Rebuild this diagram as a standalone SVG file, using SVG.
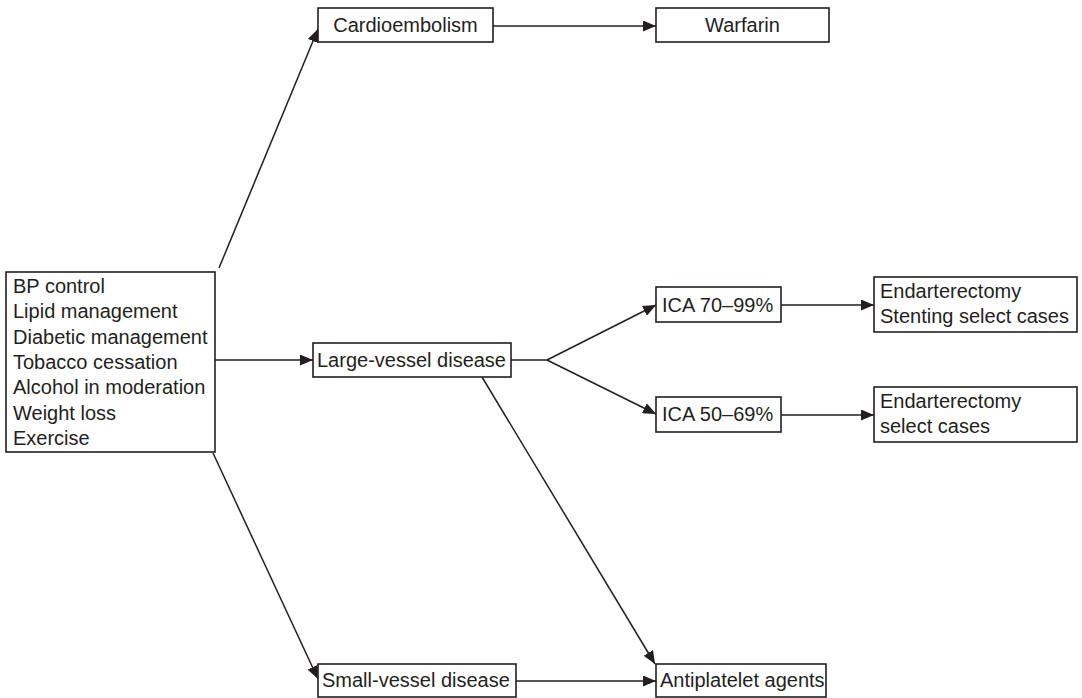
<svg xmlns="http://www.w3.org/2000/svg" width="1082" height="698" viewBox="0 0 1082 698">
<style>
.box{fill:#fff;stroke:#231f20;stroke-width:1.6}
.t{font-family:"Liberation Sans",Arial,sans-serif;font-size:20px;fill:#231f20}
.c{text-anchor:middle}
.ln{stroke:#231f20;stroke-width:1.5;fill:none}
</style>
<defs>
<marker id="ah" viewBox="0 0 13 11" refX="13" refY="5.5" markerWidth="13" markerHeight="11" markerUnits="userSpaceOnUse" orient="auto">
<path d="M0,0 L13,5.5 L0,11 Z" fill="#231f20"/>
</marker>
</defs>
<rect width="1082" height="698" fill="#fff"/>
<g id="connectors">
<line class="ln" x1="219" y1="268" x2="318" y2="29" marker-end="url(#ah)"/>
<line class="ln" x1="493" y1="26" x2="656" y2="26" marker-end="url(#ah)"/>
<line class="ln" x1="215" y1="360" x2="313" y2="360" marker-end="url(#ah)"/>
<line class="ln" x1="511" y1="360" x2="547" y2="360"/>
<line class="ln" x1="547" y1="360" x2="656" y2="305" marker-end="url(#ah)"/>
<line class="ln" x1="547" y1="360" x2="656" y2="414" marker-end="url(#ah)"/>
<line class="ln" x1="781" y1="305" x2="874" y2="305" marker-end="url(#ah)"/>
<line class="ln" x1="781" y1="415" x2="874" y2="415" marker-end="url(#ah)"/>
<line class="ln" x1="482" y1="377" x2="655" y2="664" marker-end="url(#ah)"/>
<line class="ln" x1="213" y1="453" x2="318" y2="679" marker-end="url(#ah)"/>
<line class="ln" x1="516" y1="681" x2="656" y2="681" marker-end="url(#ah)"/>
</g>
<g id="risk">
<rect class="box" x="6" y="272" width="209" height="180"/>
<text class="t" x="13" y="293">BP control</text>
<text class="t" x="13" y="318.3">Lipid management</text>
<text class="t" x="13" y="343.7">Diabetic management</text>
<text class="t" x="13" y="369">Tobacco cessation</text>
<text class="t" x="13" y="394.3">Alcohol in moderation</text>
<text class="t" x="13" y="419.7">Weight loss</text>
<text class="t" x="13" y="445">Exercise</text>
</g>
<g id="cardio">
<rect class="box" x="318" y="8" width="175" height="34"/>
<text class="t c" x="405.5" y="32">Cardioembolism</text>
</g>
<g id="warfarin">
<rect class="box" x="656" y="8" width="173" height="34"/>
<text class="t c" x="742.5" y="32">Warfarin</text>
</g>
<g id="large">
<rect class="box" x="313" y="343" width="198" height="34"/>
<text class="t" x="317" y="367">Large-vessel disease</text>
</g>
<g id="ica70">
<rect class="box" x="656" y="287" width="125" height="35"/>
<text class="t" x="662" y="312">ICA 70–99%</text>
</g>
<g id="ica50">
<rect class="box" x="656" y="397" width="125" height="35"/>
<text class="t" x="662" y="421">ICA 50–69%</text>
</g>
<g id="endart1">
<rect class="box" x="874" y="277" width="203" height="55"/>
<text class="t" x="880" y="298">Endarterectomy</text>
<text class="t" x="880" y="323">Stenting select cases</text>
</g>
<g id="endart2">
<rect class="box" x="874" y="387" width="203" height="55"/>
<text class="t" x="880" y="408">Endarterectomy</text>
<text class="t" x="880" y="433">select cases</text>
</g>
<g id="small">
<rect class="box" x="318" y="664" width="198" height="33"/>
<text class="t" x="322" y="687">Small-vessel disease</text>
</g>
<g id="antiplatelet">
<rect class="box" x="656" y="664" width="170" height="33"/>
<text class="t" x="660" y="687">Antiplatelet agents</text>
</g>
</svg>
